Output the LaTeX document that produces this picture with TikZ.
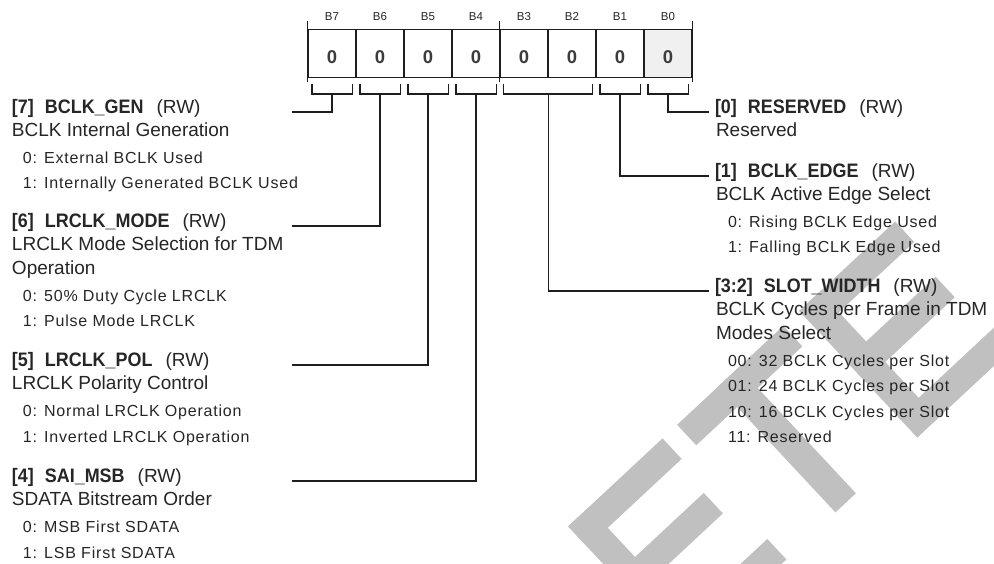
\documentclass[tikz,border=0pt]{standalone}
\usepackage{fontspec}
\usetikzlibrary{calc}
\setmainfont{Liberation Sans}
\newfontfamily\hdfont{Liberation Sans}[FakeStretch=0.92]
\newfontfamily\opfont{Liberation Sans}[LetterSpace=5]
\definecolor{txt}{RGB}{38,38,38}
\definecolor{ln}{RGB}{30,30,30}
\definecolor{wm}{RGB}{192,192,192}
\definecolor{cellgray}{RGB}{240,240,240}
\definecolor{zero}{RGB}{60,60,60}
\newcommand\fhd{\hdfont\bfseries\fontsize{19.5}{20}\selectfont}
\newcommand\fbd{\fontsize{19}{20}\selectfont}
\newcommand\fop{\opfont\fontsize{16}{18}\selectfont}
\newcommand\hdline[2]{{\fhd #1}\hspace{11pt}{\fhd #2}\hspace{13pt}{\fbd (RW)}}
\newcommand\wmbar[4]{\fill[wm] (#1,#3) -- (#2,#3) -- (#2,#4) -- (#1,#4) -- cycle;}
\tikzset{
  txtnode/.style={inner sep=0pt, outer sep=0pt, text=txt, anchor=base west},
  hd/.style={txtnode},
  bd/.style={txtnode, font=\fbd},
  op/.style={txtnode, font=\fop},
  bitlbl/.style={inner sep=0pt, text=txt, anchor=base, font=\fontsize{11.5}{12}\selectfont},
  cellbox/.style={draw=ln, line width=1.2pt, minimum width=48pt, minimum height=48pt, inner sep=0pt, fill=white},
  zerolbl/.style={inner sep=0pt, text=zero, anchor=base, font=\bfseries\fontsize{18.5}{19}\selectfont},
  wire/.style={draw=ln, line width=1.3pt},
}
\begin{document}
\begin{tikzpicture}[x=1pt,y=-1pt]
\useasboundingbox (0,0) rectangle (994,563);
\clip (0,0) rectangle (994,563);
\fill[white] (0,0) rectangle (994,563);

% watermark
\begin{scope}[shift={(686.7pt,-435pt)}, x={(0.7314pt,0.6820pt)}, y={(0.6820pt,-0.7314pt)}]
  % E (first)
  \wmbar{-149}{-121}{-14}{159}
  \wmbar{-149}{-20}{-14}{14}
  \wmbar{-149}{-27}{54}{82}
  \wmbar{-149}{-12}{131}{159}
  % T
  \wmbar{0}{145}{-14}{14}
  \wmbar{56}{84}{-14}{158}
  % E (second)
  \wmbar{167}{195}{-14}{159}
  \wmbar{167}{298}{-14}{14}
  \wmbar{167}{290}{54}{82}
  \wmbar{167}{306}{131}{159}
\end{scope}

% register cells
\foreach \i/\b in {0/7,1/6,2/5,3/4,4/3,5/2,6/1,7/0}{
  \node[cellbox] (c\i) at (332+48*\i,53.3) {};
  \node[bitlbl] (b\i) at (332+48*\i,20) {B\b};
}
\node[cellbox, fill=cellgray] (c7) at (332+48*7,53.3) {};
\foreach \i in {0,...,7}{
  \node[zerolbl] (z\i) at (332+48*\i,63.3) {0};
}
% nibble ticks
\draw[wire, line width=1.2pt] ($(c0.north west)+(0,-7.5)$) -- ($(c0.south west)+(0,4.5)$);
\draw[wire, line width=1.2pt] ($(c4.north west)+(0,-7.5)$) -- ($(c4.south west)+(0,4.5)$);
\draw[wire, line width=1.2pt] ($(c7.north east)+(0,-7.5)$) -- ($(c7.south east)+(0,4.5)$);

% brackets
\foreach \i in {0,1,2,3,6,7}{
  \draw[wire] ($(c\i.south west)+(4.5,6)$) -- ($(c\i.south west)+(4.5,16)$) -- ($(c\i.south east)+(-4,16)$) -- ($(c\i.south east)+(-4,6)$);
  \coordinate (br\i) at ($(c\i.south)+(0,16)$);
}
\draw[wire] ($(c4.south west)+(4,6)$) -- ($(c4.south west)+(4,16)$) -- ($(c5.south east)+(-4,16)$) -- ($(c5.south east)+(-4,6)$);
\coordinate (br45) at ($(c4.south east)+(0,16)$);

% left column
\node[hd] (h7) at (12,113) {\hdline{[7]}{BCLK\_GEN}};
\node[bd] (d7) at (12,136.5) {BCLK Internal Generation};
\node[op] (o7a) at (23,163) {0: External BCLK Used};
\node[op] (o7b) at (23,188.5) {1: Internally Generated BCLK Used};

\node[hd] (h6) at (12,227) {\hdline{[6]}{LRCLK\_MODE}};
\node[bd] (d6a) at (12,250.5) {LRCLK Mode Selection for TDM};
\node[bd] (d6b) at (12,274) {Operation};
\node[op] (o6a) at (23,301) {0: 50\% Duty Cycle LRCLK};
\node[op] (o6b) at (23,326.5) {1: Pulse Mode LRCLK};

\node[hd] (h5) at (12,366) {\hdline{[5]}{LRCLK\_POL}};
\node[bd] (d5) at (12,389.5) {LRCLK Polarity Control};
\node[op] (o5a) at (23,416.5) {0: Normal LRCLK Operation};
\node[op] (o5b) at (23,442) {1: Inverted LRCLK Operation};

\node[hd] (h4) at (12,482) {\hdline{[4]}{SAI\_MSB}};
\node[bd] (d4) at (12,505.5) {SDATA Bitstream Order};
\node[op] (o4a) at (23,532.5) {0: MSB First SDATA};
\node[op] (o4b) at (23,558) {1: LSB First SDATA};

% right column
\node[hd] (h0) at (715,113) {\hdline{[0]}{RESERVED}};
\node[bd] (d0) at (716,136.5) {Reserved};

\node[hd] (h1) at (715,177) {\hdline{[1]}{BCLK\_EDGE}};
\node[bd] (d1) at (716,200.5) {BCLK Active Edge Select};
\node[op] (o1a) at (728,227) {0: Rising BCLK Edge Used};
\node[op] (o1b) at (728,252.5) {1: Falling BCLK Edge Used};

\node[hd] (h32) at (715,292) {\hdline{[3:2]}{SLOT\_WIDTH}};
\node[bd] (d32a) at (716,315.5) {BCLK Cycles per Frame in TDM};
\node[bd] (d32b) at (716,339) {Modes Select};
\node[op] (o32a) at (728,366) {00: 32 BCLK Cycles per Slot};
\node[op] (o32b) at (728,391.5) {01: 24 BCLK Cycles per Slot};
\node[op] (o32c) at (728,417) {10: 16 BCLK Cycles per Slot};
\node[op] (o32d) at (728,442.5) {11: Reserved};

% leader ends
\coordinate (e7) at (292,112);
\coordinate (e6) at (292,226);
\coordinate (e5) at (292,365);
\coordinate (e4) at (292,481);
\coordinate (e0) at (709,112);
\coordinate (e1) at (709,176);
\coordinate (e32) at (709,291);

\draw[wire] (br0) |- (e7);
\draw[wire] (br1) |- (e6);
\draw[wire] (br2) |- (e5);
\draw[wire] (br3) |- (e4);
\draw[wire] (br45) |- (e32);
\draw[wire] (br6) |- (e1);
\draw[wire] (br7) |- (e0);
\end{tikzpicture}
\end{document}
